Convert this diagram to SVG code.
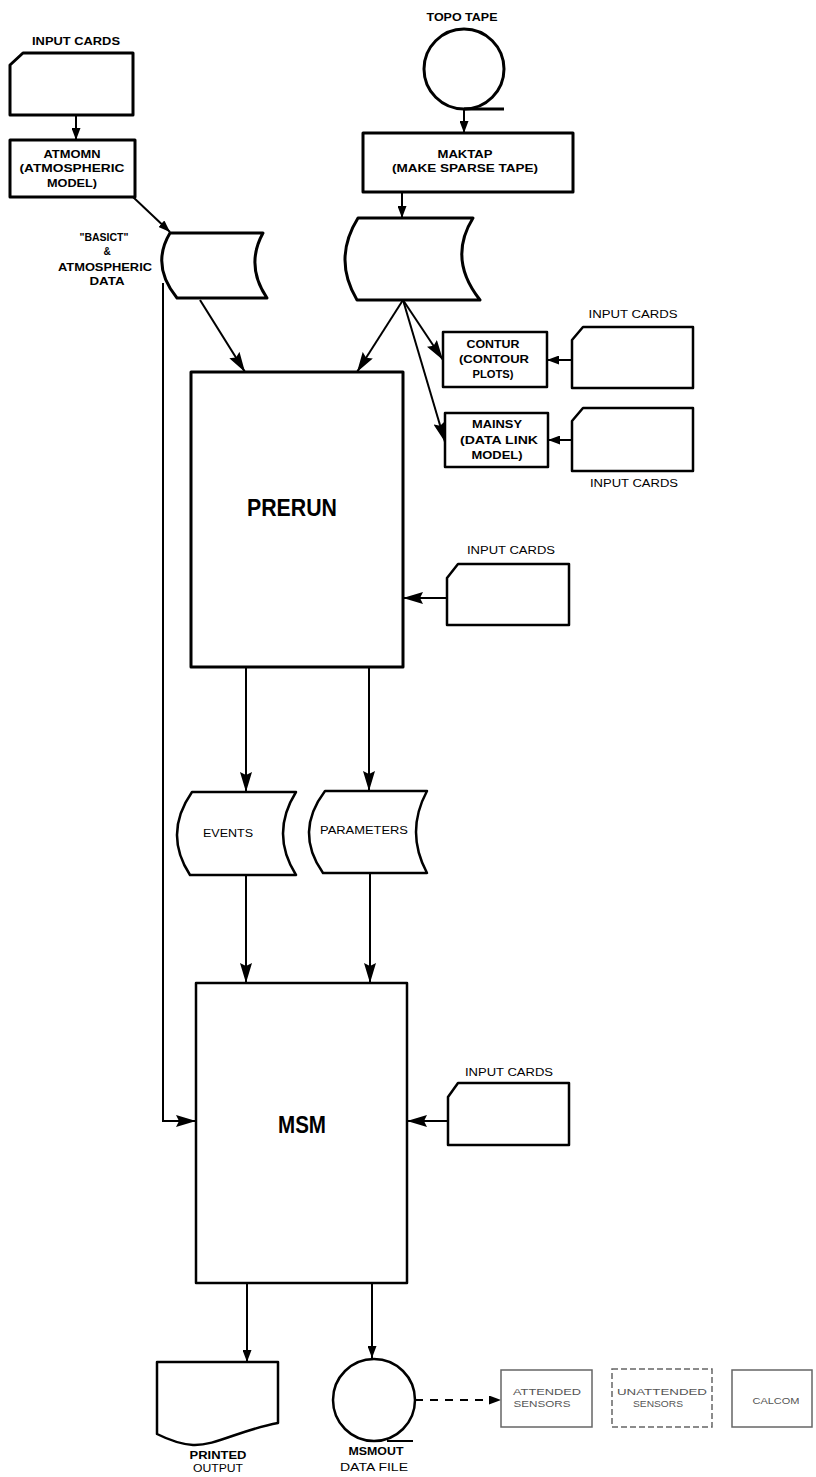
<svg xmlns="http://www.w3.org/2000/svg" width="816" height="1477" viewBox="0 0 816 1477">
<defs>
<style>
.sh{fill:#fff;stroke:#000;stroke-width:3;stroke-linejoin:round}
.sh2{fill:#fff;stroke:#000;stroke-width:2.5;stroke-linejoin:round}
.cn{fill:none;stroke:#000;stroke-width:2}
.t{font-family:"Liberation Sans","DejaVu Sans",sans-serif;font-weight:bold;font-size:10px;fill:#000;text-anchor:middle}
.tn{font-family:"Liberation Sans","DejaVu Sans",sans-serif;font-size:10px;fill:#000;text-anchor:middle}
.big{font-family:"Liberation Sans","DejaVu Sans",sans-serif;font-weight:bold;font-size:23px;fill:#000;text-anchor:middle}
.fade{fill:#fff;stroke:#666;stroke-width:1.5}
.tf{font-family:"Liberation Sans","DejaVu Sans",sans-serif;font-size:9px;fill:#555;text-anchor:middle}
</style>
<marker id="ah" markerUnits="userSpaceOnUse" markerWidth="20" markerHeight="12" refX="20" refY="6" orient="auto">
<path d="M0,0 L20,6 L0,12 L3,6 Z" fill="#000"/>
</marker>
<marker id="as" markerUnits="userSpaceOnUse" markerWidth="12" markerHeight="9" refX="12" refY="4.5" orient="auto">
<path d="M0,0 L12,4.5 L0,9 Z" fill="#000"/>
</marker>
</defs>

<g id="connectors">
<line class="cn" x1="76" y1="115" x2="76" y2="140" marker-end="url(#as)" stroke-width="3"/>
<line class="cn" x1="133" y1="197" x2="170" y2="232" marker-end="url(#as)" stroke-width="3"/>
<line class="cn" x1="464" y1="110" x2="464" y2="133" marker-end="url(#as)" stroke-width="3"/>
<line class="cn" x1="402" y1="192" x2="402" y2="218" marker-end="url(#as)" stroke-width="3"/>
<line class="cn" x1="200" y1="300" x2="245" y2="372" marker-end="url(#ah)"/>
<line class="cn" x1="403" y1="300" x2="357" y2="372" marker-end="url(#ah)"/>
<line class="cn" x1="403" y1="300" x2="443" y2="360" marker-end="url(#ah)"/>
<line class="cn" x1="403" y1="300" x2="445" y2="442" marker-end="url(#ah)"/>
<line class="cn" x1="572" y1="360" x2="547" y2="360" marker-end="url(#as)"/>
<line class="cn" x1="572" y1="440" x2="548" y2="440" marker-end="url(#as)"/>
<line class="cn" x1="447" y1="598" x2="403" y2="598" marker-end="url(#ah)"/>
<line class="cn" x1="246" y1="667" x2="246" y2="792" marker-end="url(#ah)"/>
<line class="cn" x1="369" y1="667" x2="369" y2="791" marker-end="url(#ah)"/>
<line class="cn" x1="246" y1="875" x2="246" y2="983" marker-end="url(#ah)"/>
<line class="cn" x1="370" y1="873" x2="370" y2="983" marker-end="url(#ah)"/>
<path class="cn" d="M163,283 L163,1121 L196,1121" marker-end="url(#ah)"/>
<line class="cn" x1="447" y1="1121" x2="407" y2="1121" marker-end="url(#ah)"/>
<line class="cn" x1="247" y1="1283" x2="247" y2="1362" marker-end="url(#as)"/>
<line class="cn" x1="372" y1="1283" x2="372" y2="1358" marker-end="url(#as)"/>
<line class="cn" x1="415" y1="1400" x2="501" y2="1400" stroke-dasharray="8,7" marker-end="url(#as)"/>
</g>

<g id="input-cards-1">
<text class="t" x="76" y="45" textLength="88" lengthAdjust="spacingAndGlyphs">INPUT CARDS</text>
<path class="sh" d="M10,65 L23,53 L133,53 L133,115 L10,115 Z"/>
</g>

<g id="atmomn">
<rect class="sh" x="10" y="140" width="125" height="57"/>
<text class="t" x="72" y="158" textLength="57" lengthAdjust="spacingAndGlyphs">ATMOMN</text>
<text class="t" x="72" y="172" textLength="105" lengthAdjust="spacingAndGlyphs">(ATMOSPHERIC</text>
<text class="t" x="72" y="187" textLength="50" lengthAdjust="spacingAndGlyphs">MODEL)</text>
</g>

<g id="basict-data">
<path class="sh" d="M170,233 L263,233 Q245,265.5 267,298 L177,298 Q150.5,265.5 170,233 Z"/>
<text class="t" x="104" y="241" textLength="49" lengthAdjust="spacingAndGlyphs">"BASICT"</text>
<text class="t" x="107" y="255">&amp;</text>
<text class="t" x="105" y="271" textLength="94" lengthAdjust="spacingAndGlyphs">ATMOSPHERIC</text>
<text class="t" x="107" y="285" textLength="35" lengthAdjust="spacingAndGlyphs">DATA</text>
</g>

<g id="topo-tape">
<text class="t" x="462" y="21" textLength="71" lengthAdjust="spacingAndGlyphs">TOPO TAPE</text>
<circle class="sh" cx="464" cy="69" r="40"/>
<line x1="464" y1="109" x2="504" y2="109" stroke="#000" stroke-width="3"/>
</g>

<g id="maktap">
<rect class="sh" x="363" y="133" width="210" height="59"/>
<text class="t" x="465" y="158" textLength="55" lengthAdjust="spacingAndGlyphs">MAKTAP</text>
<text class="t" x="465" y="172" textLength="146" lengthAdjust="spacingAndGlyphs">(MAKE SPARSE TAPE)</text>
</g>

<g id="topo-data">
<path class="sh" d="M358,218 L473,218 Q447.5,259 480,300 L357,300 Q332.5,259 358,218 Z"/>
</g>

<g id="contur">
<rect class="sh2" x="443" y="332" width="104" height="55"/>
<text class="t" x="493" y="348" textLength="53" lengthAdjust="spacingAndGlyphs">CONTUR</text>
<text class="t" x="494" y="363" textLength="70" lengthAdjust="spacingAndGlyphs">(CONTOUR</text>
<text class="t" x="493" y="378" textLength="41" lengthAdjust="spacingAndGlyphs">PLOTS)</text>
</g>

<g id="mainsy">
<rect class="sh2" x="445" y="413" width="103" height="54"/>
<text class="t" x="497" y="428" textLength="50" lengthAdjust="spacingAndGlyphs">MAINSY</text>
<text class="t" x="499" y="444" textLength="78" lengthAdjust="spacingAndGlyphs">(DATA LINK</text>
<text class="t" x="497" y="459" textLength="51" lengthAdjust="spacingAndGlyphs">MODEL)</text>
</g>

<g id="input-cards-contur">
<text class="tn" x="633" y="318" textLength="89" lengthAdjust="spacingAndGlyphs">INPUT CARDS</text>
<path class="sh2" d="M572,340 L583,327 L693,327 L693,388 L572,388 Z"/>
</g>

<g id="input-cards-mainsy">
<path class="sh2" d="M572,421 L583,408 L693,408 L693,471 L572,471 Z"/>
<text class="tn" x="634" y="487" textLength="88" lengthAdjust="spacingAndGlyphs">INPUT CARDS</text>
</g>

<g id="prerun">
<rect class="sh" x="191" y="372" width="212" height="295"/>
<text class="big" x="292" y="516" textLength="90" lengthAdjust="spacingAndGlyphs">PRERUN</text>
</g>

<g id="input-cards-prerun">
<text class="tn" x="511" y="554" textLength="88" lengthAdjust="spacingAndGlyphs">INPUT CARDS</text>
<path class="sh2" d="M447,578 L458,564 L569,564 L569,625 L447,625 Z"/>
</g>

<g id="events">
<path class="sh2" d="M192,792 L296,792 Q270,833.5 296,875 L190,875 Q163,833.5 192,792 Z"/>
<text class="tn" x="228" y="837" textLength="50" lengthAdjust="spacingAndGlyphs">EVENTS</text>
</g>

<g id="parameters">
<path class="sh2" d="M325,791 L427,791 Q405,832 427,873 L323,873 Q294,832 325,791 Z"/>
<text class="tn" x="364" y="834" textLength="88" lengthAdjust="spacingAndGlyphs">PARAMETERS</text>
</g>

<g id="msm">
<rect class="sh2" x="196" y="983" width="211" height="300"/>
<text class="big" x="302" y="1133" textLength="48" lengthAdjust="spacingAndGlyphs">MSM</text>
</g>

<g id="input-cards-msm">
<text class="tn" x="509" y="1076" textLength="88" lengthAdjust="spacingAndGlyphs">INPUT CARDS</text>
<path class="sh2" d="M448,1097 L458,1083 L569,1083 L569,1145 L448,1145 Z"/>
</g>

<g id="printed-output">
<path class="sh2" d="M157,1362 L278,1362 L278,1423 C240,1430 215,1446 193,1445 C178,1444 165,1438 157,1434 Z"/>
<text class="t" x="218" y="1459" textLength="57" lengthAdjust="spacingAndGlyphs">PRINTED</text>
<text class="tn" x="218" y="1472" textLength="50" lengthAdjust="spacingAndGlyphs">OUTPUT</text>
</g>

<g id="msmout">
<circle class="sh2" cx="374" cy="1400" r="41"/>
<line x1="387" y1="1441" x2="413" y2="1441" stroke="#000" stroke-width="2"/>
<text class="t" x="376" y="1455" textLength="55" lengthAdjust="spacingAndGlyphs">MSMOUT</text>
<text class="tn" x="374" y="1471" textLength="68" lengthAdjust="spacingAndGlyphs">DATA FILE</text>
</g>

<g id="attended-sensors">
<rect class="fade" x="501" y="1370" width="91" height="57" stroke="#222"/>
<text class="tf" x="547" y="1395" textLength="68" lengthAdjust="spacingAndGlyphs">ATTENDED</text>
<text class="tf" x="542" y="1407" textLength="57" lengthAdjust="spacingAndGlyphs">SENSORS</text>
</g>

<g id="unattended-sensors">
<rect class="fade" x="612" y="1369" width="100" height="58" stroke-dasharray="6,3"/>
<text class="tf" x="662" y="1395" textLength="90" lengthAdjust="spacingAndGlyphs">UNATTENDED</text>
<text class="tf" x="658" y="1407" textLength="50" lengthAdjust="spacingAndGlyphs">SENSORS</text>
</g>

<g id="calcom">
<rect class="fade" x="732" y="1370" width="80" height="57"/>
<text class="tf" x="776" y="1404" textLength="47" lengthAdjust="spacingAndGlyphs">CALCOM</text>
</g>
</svg>
